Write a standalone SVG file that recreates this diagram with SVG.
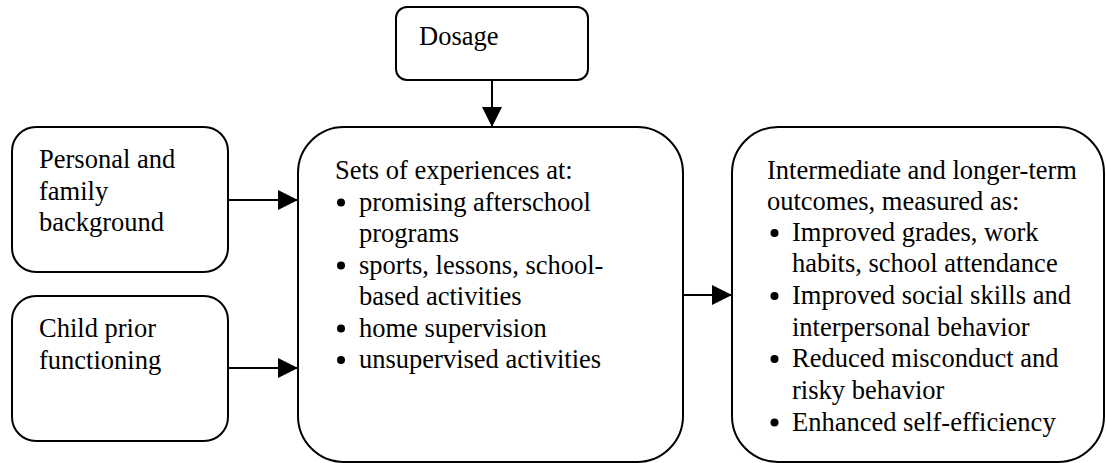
<svg xmlns="http://www.w3.org/2000/svg" width="1106" height="463" viewBox="0 0 1106 463">
<defs>
<style>
.box{fill:#fff;stroke:#000;stroke-width:2}
.t{font-size:26.5px;fill:#000}
.c{stroke:#000;stroke-width:2;fill:none}
.b{fill:#000}
</style>
<marker id="ah" viewBox="0 0 20 20" refX="20" refY="10" markerWidth="20" markerHeight="20" markerUnits="userSpaceOnUse" orient="auto">
<path d="M0,0 L20,10 L0,20 Z" fill="#000"/>
</marker>
</defs>
<rect width="1106" height="463" fill="#fff"/>
<g id="connectors">
<line class="c" x1="492" y1="80" x2="492" y2="127" marker-end="url(#ah)"/>
<line class="c" x1="228" y1="200" x2="298" y2="200" marker-end="url(#ah)"/>
<line class="c" x1="228" y1="368" x2="298" y2="368" marker-end="url(#ah)"/>
<line class="c" x1="683" y1="295" x2="732" y2="295" marker-end="url(#ah)"/>
</g>
<g font-family="'Liberation Serif', 'Times New Roman', 'DejaVu Serif', serif">
<g id="dosage">
<rect class="box" x="396" y="7" width="192" height="73" rx="11"/>
<text class="t" x="419" y="45">Dosage</text>
</g>
<g id="personal">
<rect class="box" x="12" y="127" width="216" height="145" rx="24"/>
<text class="t"><tspan x="39" y="168">Personal and</tspan><tspan x="39" y="199.5">family</tspan><tspan x="39" y="231">background</tspan></text>
</g>
<g id="child">
<rect class="box" x="12" y="296" width="216" height="145" rx="24"/>
<text class="t"><tspan x="39" y="337">Child prior</tspan><tspan x="39" y="368.5">functioning</tspan></text>
</g>
<g id="experiences">
<rect class="box" x="298" y="127" width="385" height="335" rx="46"/>
<circle class="b" cx="341" cy="202.5" r="4"/>
<circle class="b" cx="341" cy="265.5" r="4"/>
<circle class="b" cx="341" cy="328.5" r="4"/>
<circle class="b" cx="341" cy="360" r="4"/>
<text class="t">
<tspan x="335" y="179">Sets of experiences at:</tspan>
<tspan x="359" y="210.5">promising afterschool</tspan>
<tspan x="359" y="242">programs</tspan>
<tspan x="359" y="273.5">sports, lessons, school-</tspan>
<tspan x="359" y="305">based activities</tspan>
<tspan x="359" y="336.5">home supervision</tspan>
<tspan x="359" y="368">unsupervised activities</tspan>
</text>
</g>
<g id="outcomes">
<rect class="box" x="732" y="127" width="372" height="335" rx="46"/>
<circle class="b" cx="774.5" cy="233" r="4"/>
<circle class="b" cx="774.5" cy="296" r="4"/>
<circle class="b" cx="774.5" cy="359" r="4"/>
<circle class="b" cx="774.5" cy="422.5" r="4"/>
<text class="t">
<tspan x="767" y="179">Intermediate and longer-term</tspan>
<tspan x="767" y="210">outcomes, measured as:</tspan>
<tspan x="792" y="241">Improved grades, work</tspan>
<tspan x="792" y="272">habits, school attendance</tspan>
<tspan x="792" y="304">Improved social skills and</tspan>
<tspan x="792" y="335.5">interpersonal behavior</tspan>
<tspan x="792" y="367">Reduced misconduct and</tspan>
<tspan x="792" y="398.5">risky behavior</tspan>
<tspan x="792" y="430.5">Enhanced self-efficiency</tspan>
</text>
</g>
</g>
</svg>
